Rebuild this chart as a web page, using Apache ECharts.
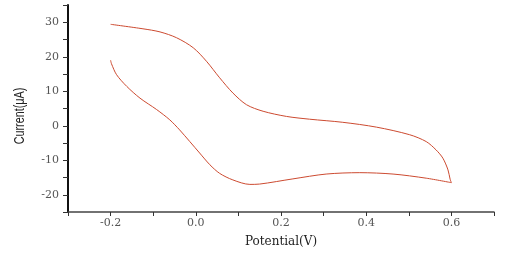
<!DOCTYPE html>
<html>
<head>
<meta charset="utf-8">
<script src="https://cdn.jsdelivr.net/npm/echarts@6/dist/echarts.min.js"></script>
<style>html,body{margin:0;padding:0;background:#fff}#c{width:528px;height:255px}</style>
</head>
<body>
<div id="c"></div>
<script>
// Cyclic voltammogram: forward (upper) branch then reverse (lower) branch
const potential = [-0.200,-0.124,-0.084,-0.045,-0.006,0.025,0.056,0.087,0.119,0.158,0.213,0.267,0.345,0.424,0.502,0.541,0.564,0.580,0.592,0.597,0.600,
                   0.541,0.463,0.385,0.306,0.228,0.150,0.127,0.087,0.056,0.033,0.009,-0.014,-0.038,-0.061,-0.092,-0.131,-0.162,-0.186,-0.198,-0.200];
const current   = [29.4,28.1,27.2,25.5,22.6,18.7,13.9,9.5,6.1,4.2,2.7,1.9,1.0,-0.4,-2.6,-4.6,-7.0,-9.4,-12.8,-15.5,-16.5,
                   -15.2,-14.0,-13.6,-14.0,-15.4,-16.9,-17.0,-15.7,-13.8,-11.3,-7.9,-4.6,-1.2,1.7,4.7,8.0,11.4,14.8,18.0,19.0];
const xTickLabels = ['-0.2','0.0','0.2','0.4','0.6'];
const yTickLabels = ['-20','-10','0','10','20','30'];

const chart = echarts.init(document.getElementById('c'));
const font = '"DejaVu Serif", "Liberation Serif", serif';
chart.setOption({
  animation: false,
  grid: {left: 68, right: 34, top: 5, bottom: 43},
  graphic: [{
    type: 'text', x: 20, y: 116, rotation: Math.PI / 2, scaleX: 0.72,
    style: {text: 'Current(μA)', font: '15px "Liberation Sans", Arial, sans-serif', fill: '#222', align: 'center', verticalAlign: 'middle'}
  }],
  xAxis: {
    type: 'value', min: -0.3, max: 0.7, interval: 0.1,
    name: 'Potential(V)', nameLocation: 'middle', nameGap: 24,
    nameTextStyle: {fontFamily: font, fontSize: 12, color: '#222'},
    axisLine: {show: true, onZero: false, lineStyle: {color: '#444', width: 1.5}},
    axisTick: {show: true, inside: false, length: 4, lineStyle: {color: '#333'}},
    axisLabel: {
      margin: 6, fontFamily: font, fontSize: 11, color: '#555',
      formatter: v => { const s = v.toFixed(1) === '-0.0' ? '0.0' : v.toFixed(1); return xTickLabels.includes(s) ? s : ''; }
    },
    splitLine: {show: false}
  },
  yAxis: {
    type: 'value', min: -25, max: 35, interval: 5,
    axisLine: {show: true, onZero: false, lineStyle: {color: '#111', width: 2}},
    axisTick: {show: true, inside: false, length: 5, lineStyle: {color: '#333'}},
    axisLabel: {
      margin: 9, fontFamily: font, fontSize: 11, color: '#555',
      formatter: v => { const s = String(Math.round(v)); return yTickLabels.includes(s) ? s : ''; }
    },
    splitLine: {show: false}
  },
  series: [{
    type: 'line',
    data: potential.map((p, i) => [p, current[i]]),
    smooth: 0.3,
    showSymbol: false,
    lineStyle: {color: '#cc4a30', width: 1}
  }]
});
</script>
</body>
</html>
